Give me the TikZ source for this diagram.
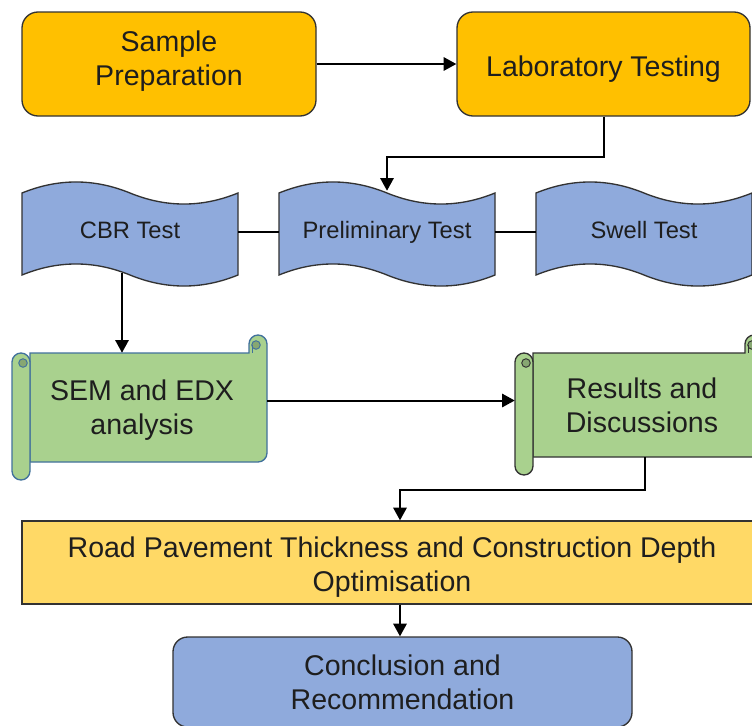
\documentclass[tikz,border=0pt]{standalone}
\usepackage{fontspec}
\setmainfont{Liberation Sans}
\usepackage{tikz}
\usetikzlibrary{calc,positioning,arrows.meta}
\usepackage{xcolor}
\definecolor{myorange}{RGB}{255,192,0}
\definecolor{myblue}{RGB}{143,170,220}
\definecolor{mygreen}{RGB}{169,209,142}
\definecolor{myyellow}{RGB}{255,217,102}
\definecolor{myedge}{RGB}{50,50,50}
\definecolor{myscroll}{RGB}{65,113,156}
\definecolor{mytext}{RGB}{30,30,30}

% wavy tape around a centre (px)
\newcommand{\tapeshape}[2]{%
  \draw[line width=1pt, draw=myedge, fill=myblue] ({#1-108},{#2-41}) .. controls ({#1-72},{#2-55.7}) and ({#1-36},{#2-55.7}) .. (#1,{#2-41})
    .. controls ({#1+36},{#2-26.3}) and ({#1+72},{#2-26.3}) .. ({#1+108},{#2-41}) -- ({#1+108},{#2+41})
    .. controls ({#1+72},{#2+55.7}) and ({#1+36},{#2+55.7}) .. (#1,{#2+41})
    .. controls ({#1-36},{#2+26.3}) and ({#1-72},{#2+26.3}) .. ({#1-108},{#2+41}) -- cycle;}
% scroll: body left, top, right, bottom (px), edge colour
\newcommand{\scrollshape}[5]{%
  \draw[line width=1pt, draw=#5, fill=mygreen] (#1,#2) -- ({#3-18},#2) -- ({#3-18},{#2-9}) arc[start angle=180, end angle=0, radius=6.75pt]
    -- (#3,{#4-9}) arc[start angle=0, end angle=-90, radius=6.75pt] -- (#1,#4) -- cycle;
  \draw[line width=0.7pt, draw=#5, fill=mygreen!80!black] ({#3-11},{#2-8}) circle[radius=3.2pt];
  \draw[line width=0.7pt, draw=#5] ({#3-15},{#2-8}) -- ({#3-15},#2);
  \draw[line width=1pt, draw=#5, fill=mygreen] ({#1-18},{#2+9}) arc[start angle=180, end angle=0, radius=6.75pt]
    -- (#1,{#4+9}) arc[start angle=0, end angle=-180, radius=6.75pt] -- cycle;
  \draw[line width=0.7pt, draw=#5, fill=mygreen!80!black] ({#1-7},{#2+10}) circle[radius=3.2pt];}

\begin{document}
\begin{tikzpicture}[x=0.75pt, y=-0.75pt,
  box/.style={draw=myedge, line width=1pt, text=mytext, align=center, inner sep=2pt, font=\fontsize{21.4}{25.5}\selectfont},
  tapebox/.style={text=mytext, inner sep=0pt, minimum width=162pt, minimum height=61.5pt, text height=13pt, text depth=3.2pt, font=\fontsize{17.8}{21}\selectfont},
  scrollbox/.style={text=mytext, align=center, inner sep=0pt, font=\fontsize{21.4}{25.5}\selectfont},
  link/.style={line width=1.5pt, -{Triangle[length=9.5pt,width=10pt]}},
  plain/.style={line width=1.5pt}]
  \useasboundingbox (0,0) rectangle (752,725);
  \clip (0,0) rectangle (752,725);
  \fill[white] (0,0) rectangle (752,725);

  \node[box, fill=myorange, rounded corners=12pt, minimum width=220.5pt, minimum height=78pt, text height=41.1pt, text depth=9pt] (prep) at (169,64) {Sample\\Preparation};
  \node[box, fill=myorange, rounded corners=12pt, minimum width=219.75pt, minimum height=78pt, text height=20.5pt, text depth=1.9pt] (lab) at (603.5,64) {Laboratory Testing};
  \draw[link] (prep) -- (lab);

  \tapeshape{130}{234}
  \tapeshape{387}{234}
  \tapeshape{644}{234}
  \node[tapebox] (cbr) at (130,232) {CBR Test};
  \node[tapebox] (prelim) at (387,232) {Preliminary Test};
  \node[tapebox] (swell) at (644,232) {Swell Test};
  \draw[link] (lab.south) -- ++(0,40) -| (prelim.north);
  \draw[plain] (cbr) -- (prelim);
  \draw[plain] (prelim) -- (swell);

  \scrollshape{30}{353}{267}{462}{myscroll}
  \node[scrollbox, minimum width=187.5pt, minimum height=86.25pt] (sem) at (142,410.5) {SEM and EDX\\analysis};
  \scrollshape{533}{353}{763}{457}{myedge}
  \node[scrollbox, minimum width=181.5pt, minimum height=78pt] (results) at (642,405) {Results and\\Discussions};
  \draw[link] ([xshift=-6pt]cbr.south) -- ([xshift=-6pt]cbr.south |- sem.north);
  \draw[link] ($(sem.east)+(0,-10)$) -- ($(sem.east -| results.west)+(-6,-10)$);

  \node[box, fill=myyellow, minimum width=555pt, minimum height=62.25pt, text height=45.6pt, text depth=1.5pt] (road) at (392,562.5) {Road Pavement Thickness and Construction Depth\\Optimisation};
  \draw[link] ([xshift=2pt]results.south) -- ++(0,33) -| ([xshift=6pt]road.north);

  \node[box, fill=myblue, rounded corners=11pt, minimum width=344.25pt, minimum height=67.5pt] (concl) at (402.5,682) {Conclusion and\\Recommendation};
  \draw[link] ([xshift=6pt]road.south) -- ([xshift=6pt]road.south |- concl.north);
\end{tikzpicture}
\end{document}
